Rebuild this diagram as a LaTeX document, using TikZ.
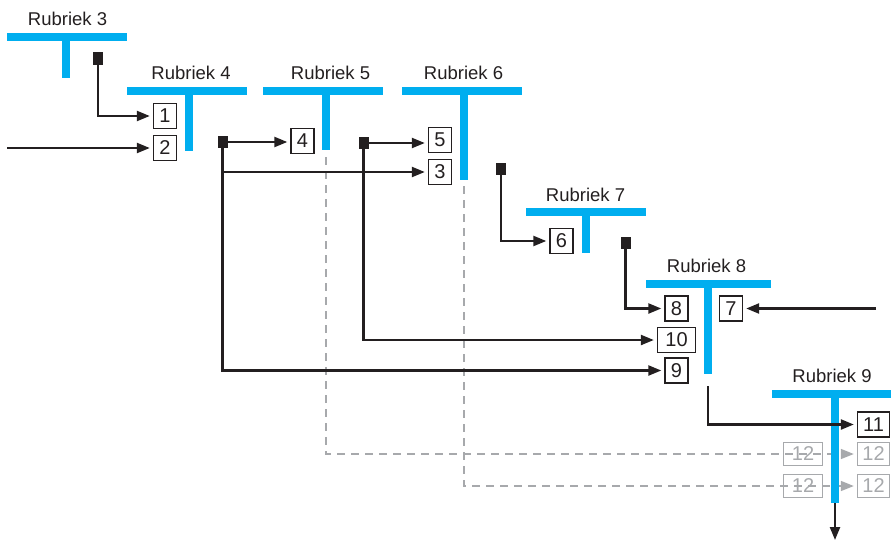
\documentclass[tikz,border=0pt]{standalone}
\usepackage{fontspec}
\setmainfont{Liberation Sans}
\usetikzlibrary{arrows.meta}
\definecolor{rcyan}{HTML}{00AEEF}
\definecolor{rblack}{HTML}{231F20}
\definecolor{rgrey}{HTML}{A7A9AC}
\begin{document}
\begin{tikzpicture}[x=1pt,y=-1pt,
  bar/.style={line width=8pt,draw=rcyan},
  lbl/.style={anchor=base,font=\fontsize{18.5}{20}\selectfont,text=rblack,inner sep=0pt},
  numbox/.style={draw=rblack,line width=1.4pt,minimum width=23pt,minimum height=25pt,inner sep=0pt,font=\fontsize{20}{20}\selectfont,text=rblack},
  greybox/.style={numbox,draw=rgrey,text=rgrey,minimum height=23pt},
  sqmark/.style={fill=rblack,minimum width=10pt,minimum height=12pt,inner sep=0pt},
  conn/.style={draw=rblack,line width=2.3pt,-{Triangle[length=13pt,width=10pt]},shorten >=3pt},
  gconn/.style={draw=rgrey,line width=1.5pt,dash pattern=on 8pt off 6pt,-{Triangle[length=13pt,width=10pt]},shorten >=3pt}
]
\useasboundingbox (0,0) rectangle (891,541);

% labels
\node[lbl] (l3) at (67.5,25) {Rubriek 3};
\node[lbl] (l4) at (191,79) {Rubriek 4};
\node[lbl] (l5) at (330.5,79) {Rubriek 5};
\node[lbl] (l6) at (463.5,79) {Rubriek 6};
\node[lbl] (l7) at (585.5,201) {Rubriek 7};
\node[lbl] (l8) at (706.5,272) {Rubriek 8};
\node[lbl] (l9) at (832,382) {Rubriek 9};

% number boxes
\node[numbox] (b1) at (165,116) {1};
\node[numbox] (b2) at (165,148) {2};
\node[numbox] (b4) at (302.5,141) {4};
\node[numbox] (b5) at (440,140) {5};
\node[numbox] (b3) at (440,172) {3};
\node[numbox] (b6) at (561.5,241) {6};
\node[numbox] (b8) at (676.5,308.5) {8};
\node[numbox] (b7) at (731,308.5) {7};
\node[numbox,minimum width=38pt] (b10) at (676.5,340) {10};
\node[numbox] (b9) at (676.5,370.5) {9};
\node[numbox,minimum width=32pt] (b11) at (873.5,424.5) {11};
\node[greybox,minimum width=39pt] (g1) at (803,454) {12};
\node[greybox,minimum width=32pt] (g2) at (873.5,454) {12};
\node[greybox,minimum width=39pt] (g3) at (803,486) {12};
\node[greybox,minimum width=32pt] (g4) at (873.5,486) {12};

% coordinates
\coordinate (in2) at (7,148);
\coordinate (in7) at (876,308.5);
\coordinate (d5) at (326,157);
\coordinate (d6) at (464,186);
\coordinate (s8) at (708,386);
\coordinate (s9) at (835,503);
\coordinate (e9) at (835,540);

% grey dashed flows
\draw[gconn] (d5) |- (g2.west);
\draw[gconn] (d6) |- (g4.west);

% blue T bars
\draw[bar] (7,37) -- (127,37);   \draw[bar] (66,37) -- (66,78);
\draw[bar] (127,91) -- (247,91); \draw[bar] (189,91) -- (189,151);
\draw[bar] (263,91) -- (383,91); \draw[bar] (326,91) -- (326,150);
\draw[bar] (402,91) -- (522,91); \draw[bar] (464,91) -- (464,180);
\draw[bar] (526,212) -- (646,212); \draw[bar] (585.5,212) -- (585.5,253);
\draw[bar] (646,284) -- (771,284); \draw[bar] (707.5,284) -- (707.5,374);
\draw[bar] (772,394) -- (891,394); \draw[bar] (835,394) -- (835,503);

% square markers
\node[sqmark,minimum height=13pt] (m3) at (98,58.5) {};
\node[sqmark] (m4) at (222.5,142) {};
\node[sqmark] (m5) at (363.5,143) {};
\node[sqmark] (m6) at (501,168.5) {};
\node[sqmark] (m7) at (625.5,243) {};

% black connectors
\draw[conn] (m3.center) |- (b1.west);
\draw[conn] (in2) -- (b2.west);
\draw[conn] (m4.center) -- (b4.west |- m4.center);
\draw[conn] (m4.center) |- (b3.west);
\draw[conn] (m4.center) |- (b9.west);
\draw[conn] (m5.center) -- (b5.west |- m5.center);
\draw[conn] (m5.center) |- (b10.west);
\draw[conn] (m6.center) |- (b6.west);
\draw[conn] (m7.center) |- (b8.west);
\draw[conn] (in7) -- (b7.east);
\draw[conn] (s8) |- (b11.west);
\draw[conn,shorten >=0pt] (s9) -- (e9);
\end{tikzpicture}
\end{document}
